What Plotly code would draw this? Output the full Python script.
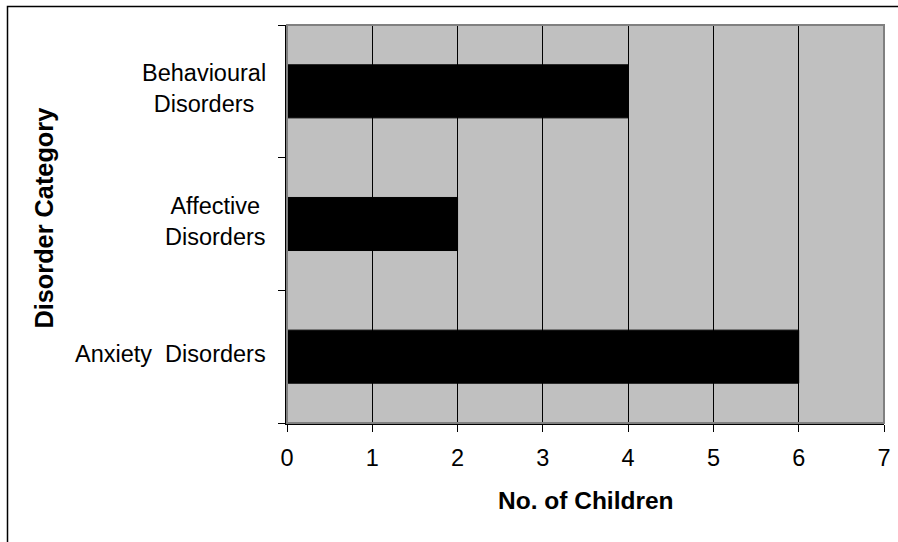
import plotly.graph_objects as go

categories = ["Anxiety Disorders", "Affective Disorders", "Behavioural Disorders"]
label_text = ["Anxiety&nbsp; Disorders", "Affective<br>Disorders", "Behavioural<br>Disorders"]
values = [6, 2, 4]
x_ticks = [0, 1, 2, 3, 4, 5, 6, 7]

FONT = "Liberation Sans, Arial, sans-serif"
FS = 23.5
FS_B = 24.5

fig = go.Figure()
fig.add_trace(go.Bar(
    y=categories, x=values, orientation="h", width=0.4,
    marker=dict(color="black", line=dict(color="black", width=1)),
    showlegend=False, hoverinfo="x+y",
))

L, R, T, B = 287, 14, 25, 119
W, H = 898, 542
pw, ph = W - L - R, H - T - B

def px_x(px):
    return (px - L) / pw

def px_y(py):
    return (H - B - py) / ph

annotations = []
for cat, txt in zip(categories, label_text):
    annotations.append(dict(
        x=0, xref="paper", y=cat, yref="y", text=txt, showarrow=False,
        xanchor="right", yanchor="middle", align="center", xshift=-19, yshift=3,
        font=dict(family=FONT, size=FS, color="black"),
    ))
annotations.append(dict(
    x=0.5, xref="paper", y=px_y(500), yref="paper", text="<b>No. of Children</b>",
    showarrow=False, xanchor="center", yanchor="middle",
    font=dict(family=FONT, size=FS_B, color="black"),
))
annotations.append(dict(
    x=px_x(43), xref="paper", y=px_y(218.5), yref="paper", text="<b>Disorder Category</b>",
    showarrow=False, xanchor="center", yanchor="middle", textangle=-90,
    font=dict(family=FONT, size=25.3, color="black"),
))

shapes = [
    dict(type="rect", xref="paper", yref="paper", x0=0, x1=1, y0=0, y1=1,
         line=dict(color="#808080", width=2), layer="above"),
    dict(type="rect", xref="paper", yref="paper",
         x0=px_x(7.5), x1=px_x(910), y0=px_y(560), y1=px_y(6.5),
         line=dict(color="black", width=1.5), layer="above"),
]

fig.update_layout(
    width=W, height=H, autosize=False,
    margin=dict(l=L, r=R, t=T, b=B, pad=0, autoexpand=False),
    paper_bgcolor="white", plot_bgcolor="#C0C0C0",
    annotations=annotations, shapes=shapes,
    xaxis=dict(
        range=[0, 7], tickvals=x_ticks, ticktext=[str(v) for v in x_ticks],
        showgrid=True, gridcolor="black", gridwidth=1,
        ticks="outside", ticklen=7, tickcolor="black", tickwidth=1,
        ticklabelstandoff=6, automargin=False,
        showline=True, linecolor="black", linewidth=2,
        tickfont=dict(family=FONT, size=FS, color="black"),
        zeroline=False, fixedrange=True,
    ),
    yaxis=dict(
        type="category", categoryorder="array", categoryarray=categories,
        range=[-0.5, 2.5], tickson="boundaries", automargin=False,
        ticks="outside", ticklen=7, tickcolor="black", tickwidth=1,
        showticklabels=False, showgrid=False,
        showline=True, linecolor="black", linewidth=2,
        zeroline=False, fixedrange=True,
    ),
)

fig.write_html(
    "out.html",
    config={"displayModeBar": False, "responsive": False},
    post_script="document.body.style.margin='0';document.body.style.overflow='hidden';",
)
